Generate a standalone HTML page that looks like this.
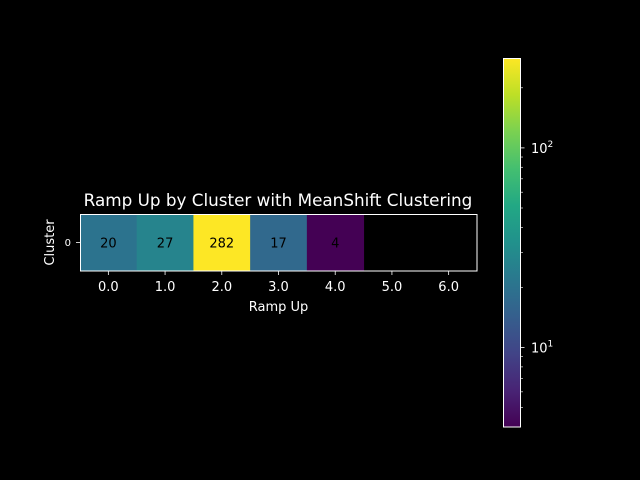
<!DOCTYPE html>
<html><head><meta charset="utf-8"><style>
html,body{margin:0;padding:0;background:#000;}
svg{display:block;font-family:"DejaVu Sans","Liberation Sans",sans-serif;}
</style></head><body>
<svg id="c" width="640" height="480" viewBox="0 0 640 480">
<defs><linearGradient id="vg" x1="0" y1="1" x2="0" y2="0"></linearGradient></defs>
<rect width="640" height="480" fill="#000"/>
<text x="278" y="206" fill="#fff" font-size="16.8" text-anchor="middle">Ramp Up by Cluster with MeanShift Clustering</text>
<text x="278.5" y="311" fill="#fff" font-size="13" text-anchor="middle">Ramp Up</text>
<text transform="translate(54,242.5) rotate(-90)" fill="#fff" font-size="13" text-anchor="middle">Cluster</text>
<g id="cells"></g>
<g id="xt"></g>
<line x1="76" y1="242.5" x2="80" y2="242.5" stroke="#fff" stroke-width="0.8"/>
<text x="71" y="246" fill="#fff" font-size="10" text-anchor="end">0</text>
<rect x="80.5" y="214.5" width="396.5" height="56.5" fill="none" stroke="#fff" stroke-width="1"/>
<rect x="503" y="58" width="17.5" height="369" fill="url(#vg)"/>
<g id="cbt"></g>
<rect x="503.5" y="58.5" width="17" height="368.5" fill="none" stroke="#fff" stroke-width="1"/>
</svg>
<script>
const categories = ["0.0","1.0","2.0","3.0","4.0","5.0","6.0"];
const values = [20, 27, 282, 17, 4, null, null];
const vmin = 4, vmax = 282;
const stops = ["#440154","#482475","#414487","#355f8d","#2a788e","#21918c","#22a884","#44bf70","#7ad151","#bddf26","#fde725"];
const NS="http://www.w3.org/2000/svg";
function hx(h){return [1,3,5].map(i=>parseInt(h.substr(i,2),16));}
function viridis(t){t=Math.max(0,Math.min(1,t));const p=t*10,i=Math.min(9,Math.floor(p)),f=p-i;const a=hx(stops[i]),b=hx(stops[i+1]);return "rgb("+a.map((v,k)=>Math.round(v+(b[k]-v)*f)).join(",")+")";}
function norm(v){return (Math.log10(v)-Math.log10(vmin))/(Math.log10(vmax)-Math.log10(vmin));}
const X0=80,W=397,Y0=214,H=57,cw=W/categories.length;
function xs(i){return X0+i*cw;}
function mk(tag,attrs,parent){const e=document.createElementNS(NS,tag);for(const k in attrs)e.setAttribute(k,attrs[k]);parent.appendChild(e);return e;}
const g=document.getElementById('vg');
stops.forEach((s,i)=>{mk('stop',{offset:(i/10),"stop-color":s},g);});
const cells=document.getElementById('cells'),xt=document.getElementById('xt');
values.forEach((v,i)=>{
  if(v!==null){
    const r=mk('rect',{x:xs(i),y:Y0,width:cw+0.5,height:H,fill:viridis(norm(v))},cells);
    
    
    const t=mk('text',{x:xs(i)+cw/2,y:Y0+H/2+5,fill:"#000","font-size":13,"text-anchor":"middle"},cells);
    t.textContent=v;
    
    
  }
  const l=mk('line',{x1:xs(i)+cw/2,x2:xs(i)+cw/2,y1:Y0+H,y2:Y0+H+4,stroke:"#fff","stroke-width":0.8},xt);
  
  
  const tl=mk('text',{x:xs(i)+cw/2,y:Y0+H+20,fill:"#fff","font-size":13,"text-anchor":"middle"},xt);
  tl.textContent=categories[i];
  
  
});
const cbt=document.getElementById('cbt');
function cy(v){return 427-norm(v)*369;}
const majors=[10,100], minors=[5,6,7,8,9,20,30,40,50,60,70,80,90,200];
minors.forEach(v=>{const l=mk('line',{x1:520.5,x2:523,y1:cy(v),y2:cy(v),stroke:"#fff","stroke-width":0.6},cbt);
  
  });
majors.forEach((v,i)=>{const l=mk('line',{x1:520.5,x2:524.5,y1:cy(v),y2:cy(v),stroke:"#fff","stroke-width":0.8},cbt);
  
  
  const t=mk('text',{x:531,y:cy(v)+5,fill:"#fff","font-size":13},cbt);
  t.innerHTML='10<tspan dy="-6" font-size="9">'+(i+1)+'</tspan>';
  
  });
</script>
</body></html>
